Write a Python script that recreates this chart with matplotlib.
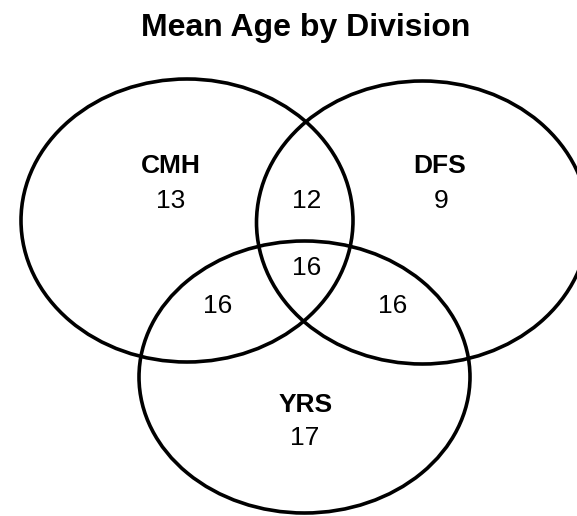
import matplotlib
matplotlib.use('Agg')
import matplotlib.pyplot as plt
from matplotlib.patches import Ellipse

plt.rcParams['font.family'] = ['Liberation Sans', 'DejaVu Sans']

# data
title = 'Mean Age by Division'
set_names = ['CMH', 'DFS', 'YRS']
set_only = [13, 9, 17]                 # CMH only, DFS only, YRS only
pair_names = ['CMH&DFS', 'CMH&YRS', 'DFS&YRS']
pair_values = [12, 16, 16]
all_three = 16

# layout (pixel space, y down)
W, H = 577, 516
ellipses = [(187, 220.5, 332, 283),    # CMH
            (422.5, 222.5, 332, 283),  # DFS
            (304.5, 377, 331, 272)]    # YRS
name_pos = [(171, 173), (440, 173), (306, 412)]
only_pos = [(171, 208), (441, 208), (305, 445)]
pair_pos = [(307, 208), (218, 313), (393, 313)]
all_pos = (307, 275)

fig = plt.figure(figsize=(W / 100, H / 100), dpi=100)
ax = fig.add_axes([0, 0, 1, 1])
ax.set_xlim(0, W)
ax.set_ylim(H, 0)
ax.axis('off')

for (cx, cy, w, h) in ellipses:
    ax.add_patch(Ellipse((cx, cy), w, h, fill=False, edgecolor='black', lw=2.6))

for name, val, (nx, ny), (vx, vy) in zip(set_names, set_only, name_pos, only_pos):
    ax.text(nx, ny, name, ha='center', va='baseline', fontsize=19, fontweight='bold')
    ax.text(vx, vy, str(val), ha='center', va='baseline', fontsize=19)

for val, (px, py) in zip(pair_values, pair_pos):
    ax.text(px, py, str(val), ha='center', va='baseline', fontsize=19)

ax.text(all_pos[0], all_pos[1], str(all_three), ha='center', va='baseline', fontsize=19)

ax.text(306, 36, title, ha='center', va='baseline', fontsize=23, fontweight='bold')

fig.savefig('out.png', dpi=100)
